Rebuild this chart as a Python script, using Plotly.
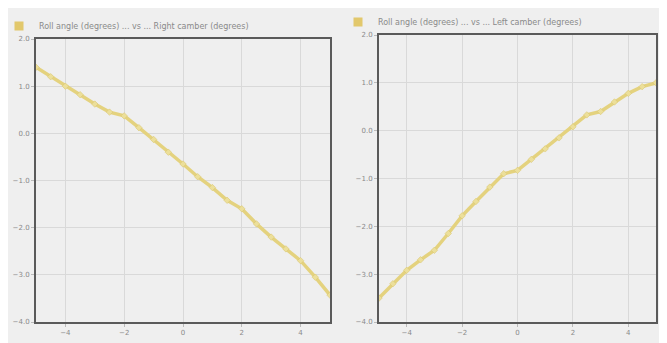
import plotly.graph_objects as go

roll = [-5.0, -4.5, -4.0, -3.5, -3.0, -2.5, -2.0, -1.5, -1.0, -0.5, 0.0,
        0.5, 1.0, 1.5, 2.0, 2.5, 3.0, 3.5, 4.0, 4.5, 5.0]
right_camber = [1.4, 1.2, 1.0, 0.82, 0.62, 0.45, 0.37, 0.12, -0.13, -0.4, -0.65,
                -0.92, -1.15, -1.42, -1.6, -1.92, -2.2, -2.45, -2.7, -3.05, -3.43]
left_camber = [-3.5, -3.2, -2.92, -2.7, -2.5, -2.15, -1.78, -1.48, -1.18, -0.9, -0.83,
               -0.6, -0.38, -0.15, 0.08, 0.33, 0.4, 0.6, 0.78, 0.92, 1.0]
x_ticks = [-4, -2, 0, 2, 4]
y_ticks = [-4.0, -3.0, -2.0, -1.0, 0.0, 1.0, 2.0]
names = ["Roll angle (degrees) ... vs ... Right camber (degrees)",
         "Roll angle (degrees) ... vs ... Left camber (degrees)"]

LINE = "#e4d27e"
SQ = "#e2c86c"
GRID = "#d9d9d9"
BORDER = "#5a5a5a"
TXT = "#8a8a8a"

# page body has an 8px margin: figure starts at page px 8
W, H, OFF = 659, 335, 8


def px_x(p):
    return (p - OFF) / W


def px_y(p):
    return 1 - (p - OFF) / H


fig = go.Figure()
for i, (ys, nm) in enumerate([(right_camber, names[0]), (left_camber, names[1])]):
    xa = "x" if i == 0 else "x2"
    ya = "y" if i == 0 else "y2"
    lg = "legend" if i == 0 else "legend2"
    fig.add_trace(go.Scatter(x=roll, y=ys, mode="lines+markers", xaxis=xa, yaxis=ya,
                             line=dict(color=LINE, width=3.5),
                             marker=dict(symbol="diamond", size=5, color="#ecdf9a",
                                         line=dict(color="#d6c26a", width=0.5)),
                             showlegend=False, hoverinfo="skip"))
    fig.add_trace(go.Scatter(x=[None], y=[None], mode="markers", xaxis=xa, yaxis=ya,
                             marker=dict(symbol="square", size=9, color=SQ),
                             name=nm, legend=lg, showlegend=True))

axis_common = dict(showgrid=True, gridcolor=GRID, gridwidth=1, zeroline=False,
                   showline=True, linecolor=BORDER, linewidth=2, mirror=True,
                   ticks="outside", ticklen=3, tickcolor="#bbbbbb", automargin=False,
                   tickfont=dict(family="DejaVu Sans", size=7, color=TXT))

fig.update_layout(
    width=W, height=H,
    margin=dict(l=0, r=0, t=0, b=0, autoexpand=False),
    paper_bgcolor="#efefef", plot_bgcolor="#efefef",
    xaxis=dict(domain=[px_x(36), px_x(330)], range=[-5, 5], tickvals=x_ticks, anchor="y", **axis_common),
    yaxis=dict(domain=[px_y(322), px_y(39)], range=[-4, 2], tickvals=y_ticks, tickformat=".1f",
               anchor="x", **axis_common),
    xaxis2=dict(domain=[px_x(379), px_x(656)], range=[-5, 5], tickvals=x_ticks, anchor="y2", **axis_common),
    yaxis2=dict(domain=[px_y(322), px_y(35)], range=[-4, 2], tickvals=y_ticks, tickformat=".1f",
                anchor="x2", **axis_common),
    legend=dict(x=px_x(-1), y=px_y(26), xanchor="left", yanchor="middle",
                bgcolor="rgba(0,0,0,0)", itemwidth=30,
                font=dict(family="DejaVu Sans", size=8, color=TXT)),
    legend2=dict(x=px_x(338), y=px_y(22), xanchor="left", yanchor="middle",
                 bgcolor="rgba(0,0,0,0)", itemwidth=30,
                 font=dict(family="DejaVu Sans", size=8, color=TXT)),
)

fig.write_html("out.html")
